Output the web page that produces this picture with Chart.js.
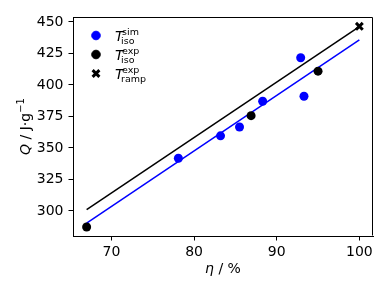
<!DOCTYPE html>
<html>
	<head>
		<meta charset="utf-8">
		<title>Q vs eta</title>
		<style>
			body { margin: 0; background: #fff; }
			#wrap { width: 390px; height: 293px; }
		</style>
	</head>
	<body>
		<div id="wrap"><canvas id="canvasChart" width="390" height="293"></canvas></div>

		<script src="https://cdn.jsdelivr.net/npm/chart.js"></script>
		<script>
			// values
			var simEta = [78.1, 83.2, 85.5, 88.3, 92.9, 93.3];
			var simQ = [341.8, 359.6, 366.6, 387.0, 421.6, 391.0];
			var expEta = [67.0, 86.9, 95.0];
			var expQ = [287.2, 375.6, 410.9];
			var rampEta = [100.0];
			var rampQ = [446.5];
			// fitted lines (ends)
			var fitEta = [67.0, 100.0];
			var fitSimQ = [290.4, 435.7];
			var fitExpQ = [301.1, 446.2];

			var xTicks = [70, 80, 90, 100];
			var yTicks = [300, 325, 350, 375, 400, 425, 450];

			var FONT = "'DejaVu Sans'";

			function pts(xs, ys) {
				return xs.map(function(x, i) { return {x: x, y: ys[i]}; });
			}

			// draws "T" with stacked sub and superscript
			function drawMathLabel(ctx, x, y, base, sup, sub) {
				ctx.fillStyle = '#000';
				ctx.textBaseline = 'alphabetic';
				ctx.textAlign = 'left';
				ctx.font = 'italic 14px ' + FONT;
				ctx.fillText(base, x, y);
				var w = ctx.measureText(base).width;
				ctx.font = '9.5px ' + FONT;
				ctx.fillText(sup, x + w - 1.5, y - 6);
				ctx.fillText(sub, x + w - 2.5, y + 3.5);
			}

			var extras = {
				id: 'extras',
				afterDraw: function(chart) {
					var ctx = chart.ctx;
					var a = chart.chartArea;
					ctx.save();
					// frame
					ctx.strokeStyle = '#000';
					ctx.lineWidth = 1;
					ctx.beginPath();
					ctx.moveTo(Math.round(a.left) + 0.5, Math.round(a.top) + 0.5);
					ctx.lineTo(Math.round(a.right) - 0.5, Math.round(a.top) + 0.5);
					ctx.lineTo(Math.round(a.right) - 0.5, Math.round(a.bottom) - 0.5);
					ctx.stroke();

					// legend
					var lx = a.left + 23, tx = a.left + 42;
					var rows = [
						{style: 'circle', color: '#0000ff', sup: 'sim', sub: 'iso'},
						{style: 'circle', color: '#000000', sup: 'exp', sub: 'iso'},
						{style: 'crossRot', color: '#000000', sup: 'exp', sub: 'ramp'}
					];
					rows.forEach(function(r, i) {
						var cy = a.top + 18.5 + i * 19;
						ctx.fillStyle = r.color;
						ctx.strokeStyle = r.color;
						ctx.lineWidth = r.style == 'crossRot' ? 3 : 0;
						Chart.helpers.drawPoint(ctx, {pointStyle: r.style, radius: r.style == 'crossRot' ? 4.8 : 4.3, rotation: 0, borderWidth: ctx.lineWidth}, lx, cy);
						drawMathLabel(ctx, tx, cy + 5, 'T', r.sup, r.sub);
					});

					// x axis title
					ctx.fillStyle = '#000';
					ctx.textBaseline = 'alphabetic';
					ctx.textAlign = 'left';
					var p1 = '\u03b7', p2 = ' / %';
					ctx.font = 'italic 14px ' + FONT;
					var w1 = ctx.measureText(p1).width;
					ctx.font = '14px ' + FONT;
					var w2 = ctx.measureText(p2).width;
					var sx = (a.left + a.right) / 2 - (w1 + w2) / 2;
					ctx.font = 'italic 14px ' + FONT;
					ctx.fillText(p1, sx, 273);
					ctx.font = '14px ' + FONT;
					ctx.fillText(p2, sx + w1, 273);

					// y axis title
					ctx.translate(30, (a.top + a.bottom) / 2);
					ctx.rotate(-Math.PI / 2);
					ctx.font = 'italic 14px ' + FONT;
					var q = 'Q';
					var wq = ctx.measureText(q).width;
					ctx.font = '14px ' + FONT;
					var rest = ' / J\u00b7g';
					var wr = ctx.measureText(rest).width;
					ctx.font = '10px ' + FONT;
					var sup = '\u22121';
					var ws = ctx.measureText(sup).width;
					var start = -(wq + wr + ws) / 2;
					ctx.font = 'italic 14px ' + FONT;
					ctx.fillText(q, start, 0);
					ctx.font = '14px ' + FONT;
					ctx.fillText(rest, start + wq, 0);
					ctx.font = '10px ' + FONT;
					ctx.fillText(sup, start + wq + wr, -6);
					ctx.restore();
				}
			};

			var tickFont = {family: FONT, size: 14};

			var chart = new Chart(document.getElementById('canvasChart'), {
				type: 'scatter',
				data: {
					datasets: [
						{
							label: 'sim',
							data: pts(simEta, simQ),
							backgroundColor: '#0000ff',
							borderWidth: 0,
							pointRadius: 4.5,
							pointHoverRadius: 4.5,
							order: 1
						},
						{
							label: 'exp',
							data: pts(expEta, expQ),
							backgroundColor: '#000000',
							borderWidth: 0,
							pointRadius: 4.5,
							pointHoverRadius: 4.5,
							order: 1
						},
						{
							label: 'ramp',
							data: pts(rampEta, rampQ),
							pointStyle: 'crossRot',
							borderColor: '#000000',
							pointBorderWidth: 3,
							pointRadius: 4.8,
							order: 1
						},
						{
							label: 'fit sim',
							data: pts(fitEta, fitSimQ),
							showLine: true,
							borderColor: '#0000ff',
							borderWidth: 1.5,
							pointRadius: 0,
							order: 5
						},
						{
							label: 'fit exp',
							data: pts(fitEta, fitExpQ),
							showLine: true,
							borderColor: '#000000',
							borderWidth: 1.5,
							pointRadius: 0,
							order: 5
						}
					]
				},
				options: {
					responsive: false,
					animation: false,
					events: [],
					layout: { padding: { left: 0, top: 17, right: 17, bottom: 0 } },
					plugins: {
						legend: { display: false },
						tooltip: { enabled: false }
					},
					scales: {
						x: {
							type: 'linear',
							min: 65.35,
							max: 101.65,
							afterBuildTicks: function(s) { s.ticks = xTicks.map(function(v) { return {value: v}; }); },
							afterFit: function(s) { s.height = 57; },
							grid: { drawOnChartArea: false, drawTicks: true, tickLength: 4.5, color: '#000', tickColor: '#000' },
							border: { display: true, color: '#000', width: 1 },
							ticks: { color: '#000', font: tickFont, padding: 3, maxRotation: 0, autoSkip: false }
						},
						y: {
							type: 'linear',
							min: 280.1,
							max: 453.9,
							afterBuildTicks: function(s) { s.ticks = yTicks.map(function(v) { return {value: v}; }); },
							afterFit: function(s) { s.width = 73; },
							grid: { drawOnChartArea: false, drawTicks: true, tickLength: 4.5, color: '#000', tickColor: '#000' },
							border: { display: true, color: '#000', width: 1 },
							ticks: { color: '#000', font: tickFont, padding: 5, autoSkip: false }
						}
					}
				},
				plugins: [extras]
			});
		</script>
	</body>
</html>
